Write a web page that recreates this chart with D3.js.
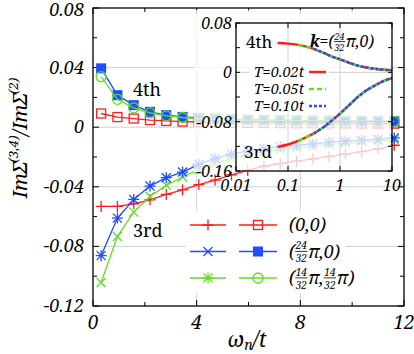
<!DOCTYPE html>
<html>
<head>
<meta charset="utf-8">
<script src="https://cdn.jsdelivr.net/npm/d3@7"></script>
<style>
  body { margin: 0; background: #fff; }
</style>
</head>
<body>
<script>
// main panel: Matsubara frequencies and ratios for three k points
var omega = [0.314, 0.942, 1.571, 2.199, 2.827, 3.456, 4.084, 4.712, 5.341, 5.969,
             6.597, 7.226, 7.854, 8.482, 9.111, 9.739, 10.367, 10.996, 11.624]

var third_00 = [-0.0532, -0.0532, -0.0514, -0.0487, -0.0451, -0.0420, -0.0385, -0.0355, -0.0320, -0.0290,
                -0.0262, -0.0245, -0.0228, -0.0212, -0.0196, -0.0180, -0.0164, -0.0145, -0.0121]
var third_24 = [-0.0862, -0.0610, -0.0485, -0.0395, -0.0339, -0.0301, -0.0250, -0.0210, -0.0180, -0.0160,
                -0.0145, -0.0132, -0.0122, -0.0112, -0.0102, -0.0094, -0.0088, -0.0082, -0.0072]
var third_14 = [-0.1042, -0.0734, -0.0570, -0.0465, -0.0390, -0.0334, -0.0285, -0.0245, -0.0210, -0.0185,
                -0.0165, -0.0150, -0.0138, -0.0127, -0.0117, -0.0108, -0.0100, -0.0093, -0.0085]
var fourth_00 = [0.0092, 0.0068, 0.0058, 0.0048, 0.0042, 0.0038, 0.0035, 0.0032, 0.0030, 0.0029,
                 0.0028, 0.0027, 0.0026, 0.0026, 0.0025, 0.0025, 0.0024, 0.0024, 0.0024]
var fourth_24 = [0.0395, 0.0215, 0.0148, 0.0103, 0.0081, 0.0069, 0.0062, 0.0057, 0.0053, 0.0050,
                 0.0048, 0.0046, 0.0045, 0.0044, 0.0043, 0.0042, 0.0041, 0.0040, 0.0040]
var fourth_14 = [0.0339, 0.0187, 0.0130, 0.0096, 0.0076, 0.0065, 0.0058, 0.0053, 0.0050, 0.0048,
                 0.0046, 0.0045, 0.0044, 0.0043, 0.0042, 0.0041, 0.0040, 0.0039, 0.0039]

// inset: k=(24/32 pi, 0), curves vs log omega for three temperatures
var inset_w = [0.063, 0.1, 0.157, 0.314, 0.5, 0.7, 1.0, 1.5, 2.2, 3.0, 5.0, 7.0, 10.0]
var inset_4th = [0.0475, 0.0466, 0.0445, 0.0380, 0.0310, 0.0255, 0.0212, 0.0155, 0.0108, 0.0082, 0.0055, 0.0042, 0.0033]
var inset_3rd = [-0.121, -0.117, -0.111, -0.099, -0.088, -0.078, -0.067, -0.053, -0.040, -0.031, -0.020, -0.014, -0.0095]
var temps = ["0.02", "0.05", "0.10"]
var t_start = [0.063, 0.157, 0.314]

var x_ticks = [0, 4, 8, 12]
var y_ticks = [0.08, 0.04, 0, -0.04, -0.08, -0.12]
var inset_x_ticks = [0.01, 0.1, 1, 10]
var inset_y_ticks = [0.08, 0, -0.08, -0.16]

var red = "#ff1c1c", blue = "#1f4dff", green = "#5ee01e", grid = "#cfcfcf"
var SERIF = "'Noto Serif', 'DejaVu Serif', serif"

var W = 414, H = 354
var svg = d3.select("body").append("svg").attr("width", W).attr("height", H)
    .attr("font-family", SERIF)

var x = d3.scaleLinear().domain([0, 12]).range([93, 404])
var y = d3.scaleLinear().domain([-0.12, 0.08]).range([306, 8])

// grid
svg.append("g").selectAll("line").data([4, 8]).enter().append("line")
    .attr("x1", d => x(d)).attr("x2", d => x(d)).attr("y1", y(0.08)).attr("y2", y(-0.12))
    .attr("stroke", grid).attr("stroke-width", 1)
svg.append("g").selectAll("line").data([0.04, 0, -0.04, -0.08]).enter().append("line")
    .attr("x1", x(0)).attr("x2", x(12)).attr("y1", d => y(d)).attr("y2", d => y(d))
    .attr("stroke", grid).attr("stroke-width", 1)

// frame + inner ticks
function frame(g, x0, x1, y0, y1) {
    g.append("rect").attr("x", x0).attr("y", y0).attr("width", x1 - x0).attr("height", y1 - y0)
        .attr("fill", "none").attr("stroke", "#000").attr("stroke-width", 1.3)
}
var axes = svg.append("g")
d3.range(0, 12.01, 2).forEach(v => {
    var len = v % 4 === 0 ? 6 : 4
    axes.append("line").attr("x1", x(v)).attr("x2", x(v)).attr("y1", y(-0.12)).attr("y2", y(-0.12) - len).attr("stroke", "#000")
    axes.append("line").attr("x1", x(v)).attr("x2", x(v)).attr("y1", y(0.08)).attr("y2", y(0.08) + len).attr("stroke", "#000")
})
d3.range(-0.12, 0.0801, 0.02).forEach(v => {
    var len = Math.abs(Math.round(v * 100)) % 4 === 0 ? 6 : 4
    axes.append("line").attr("x1", x(0)).attr("x2", x(0) + len).attr("y1", y(v)).attr("y2", y(v)).attr("stroke", "#000")
    axes.append("line").attr("x1", x(12)).attr("x2", x(12) - len).attr("y1", y(v)).attr("y2", y(v)).attr("stroke", "#000")
})

// marker shapes
function marker(g, kind, color, cx, cy) {
    var s = 4.5
    if (kind === "plus") {
        g.append("path").attr("d", `M${cx - s - 1},${cy}H${cx + s + 1}M${cx},${cy - s - 1}V${cy + s + 1}`).attr("stroke", color).attr("stroke-width", 1.3)
    } else if (kind === "cross") {
        g.append("path").attr("d", `M${cx - s},${cy - s}L${cx + s},${cy + s}M${cx - s},${cy + s}L${cx + s},${cy - s}`).attr("stroke", color).attr("stroke-width", 1.3)
    } else if (kind === "star") {
        g.append("path").attr("d", `M${cx - s},${cy - s}L${cx + s},${cy + s}M${cx - s},${cy + s}L${cx + s},${cy - s}` +
            `M${cx - s - 1},${cy}H${cx + s + 1}M${cx},${cy - s - 1}V${cy + s + 1}`).attr("stroke", color).attr("stroke-width", 1.3)
    } else if (kind === "square") {
        g.append("rect").attr("x", cx - 4.5).attr("y", cy - 4.5).attr("width", 9).attr("height", 9)
            .attr("fill", "none").attr("stroke", color).attr("stroke-width", 1.3)
    } else if (kind === "fsquare") {
        g.append("rect").attr("x", cx - 5).attr("y", cy - 5).attr("width", 10).attr("height", 10).attr("fill", color)
    } else if (kind === "circle") {
        g.append("circle").attr("cx", cx).attr("cy", cy).attr("r", 5)
            .attr("fill", "none").attr("stroke", color).attr("stroke-width", 1.3)
    }
}

var main_series = [
    {vals: third_00, color: red, mk: "plus"},
    {vals: third_14, color: green, mk: "cross"},
    {vals: third_24, color: blue, mk: "star"},
    {vals: fourth_00, color: red, mk: "square"},
    {vals: fourth_24, color: blue, mk: "fsquare"},
    {vals: fourth_14, color: green, mk: "circle"},
]
var line = d3.line().x(d => x(d[0])).y(d => y(d[1]))
var data_g = svg.append("g")
main_series.forEach(s => {
    var pts = omega.map((w, i) => [w, s.vals[i]])
    data_g.append("path").attr("d", line(pts)).attr("fill", "none").attr("stroke", s.color).attr("stroke-width", 1.3)
    pts.forEach(p => marker(data_g, s.mk, s.color, x(p[0]), y(p[1])))
})
frame(svg, 93, 404, 8, 306)

// ---- inset ----
var ix = d3.scaleLog().domain([0.01, 10]).range([236, 392])
var iy = d3.scaleLinear().domain([-0.16, 0.08]).range([171, 23])

// translucent veil over the main data
svg.append("rect").attr("x", 194).attr("y", 10).attr("width", 197).attr("height", 162)
    .attr("fill", "#fff").attr("fill-opacity", 0.76)

var inset = svg.append("g")
inset.selectAll(".vg").data([0.1, 1]).enter().append("line")
    .attr("x1", d => ix(d)).attr("x2", d => ix(d)).attr("y1", 23).attr("y2", 171)
    .attr("stroke", grid)
inset.selectAll(".hg").data([0, -0.08]).enter().append("line")
    .attr("x1", 236).attr("x2", 392).attr("y1", d => iy(d)).attr("y2", d => iy(d))
    .attr("stroke", grid)
inset_x_ticks.forEach(v => {
    inset.append("line").attr("x1", ix(v)).attr("x2", ix(v)).attr("y1", 171).attr("y2", 166).attr("stroke", "#000")
    inset.append("line").attr("x1", ix(v)).attr("x2", ix(v)).attr("y1", 23).attr("y2", 28).attr("stroke", "#000")
})
d3.range(-0.16, 0.0801, 0.04).forEach(v => {
    inset.append("line").attr("x1", 236).attr("x2", 240).attr("y1", iy(v)).attr("y2", iy(v)).attr("stroke", "#000")
    inset.append("line").attr("x1", 392).attr("x2", 388).attr("y1", iy(v)).attr("y2", iy(v)).attr("stroke", "#000")
})

// inset legend background
inset.append("rect").attr("x", 249).attr("y", 63).attr("width", 80).attr("height", 50).attr("fill", "#fff")

var iline = d3.line().x(d => ix(d[0])).y(d => iy(d[1])).curve(d3.curveMonotoneX)
var t_styles = [
    {color: red, dash: null},
    {color: green, dash: "5,3"},
    {color: blue, dash: "3,2"},
]
t_styles.forEach((st, k) => {
    [inset_4th, inset_3rd].forEach(vals => {
        var pts = inset_w.map((w, i) => [w, vals[i]]).filter(p => p[0] >= t_start[k] - 1e-9)
        inset.append("path").attr("d", iline(pts)).attr("fill", "none")
            .attr("stroke", st.color).attr("stroke-width", 2.4)
            .attr("stroke-dasharray", st.dash)
    })
})
frame(inset, 236, 392, 23, 171)

// inset legend
temps.forEach((t, k) => {
    var yy = 72 + k * 17
    inset.append("text").attr("x", 304).attr("y", yy + 5).attr("text-anchor", "end")
        .attr("font-size", 14.5).attr("font-style", "italic").text("T=" + t + "t")
    inset.append("line").attr("x1", 309).attr("x2", 326).attr("y1", yy).attr("y2", yy)
        .attr("stroke", t_styles[k].color).attr("stroke-width", 2.4).attr("stroke-dasharray", t_styles[k].dash)
})

// inset tick labels
inset_x_ticks.forEach(v => {
    svg.append("text").attr("x", ix(v)).attr("y", 191).attr("text-anchor", "middle")
        .attr("font-size", 16).attr("font-style", "italic").text(v)
})
inset_y_ticks.forEach(v => {
    svg.append("text").attr("x", 232).attr("y", iy(v) + 6).attr("text-anchor", "end")
        .attr("font-size", 16).attr("font-style", "italic").text(v === 0 ? "0" : v.toFixed(2))
})

// texts with stacked fractions
function richText(g, x0, ybase, pieces, size) {
    var cx = x0
    pieces.forEach(p => {
        if (p.frac) {
            var fs = size * 0.56
            var n = g.append("text").attr("font-size", fs).attr("font-style", "italic").attr("text-anchor", "middle").text(p.frac[0])
            var d = g.append("text").attr("font-size", fs).attr("font-style", "italic").attr("text-anchor", "middle").text(p.frac[1])
            var w = Math.max(n.node().getComputedTextLength(), d.node().getComputedTextLength()) + 1
            n.attr("x", cx + w / 2).attr("y", ybase - size * 0.45)
            d.attr("x", cx + w / 2).attr("y", ybase + size * 0.26)
            g.append("line").attr("x1", cx).attr("x2", cx + w).attr("y1", ybase - size * 0.34).attr("y2", ybase - size * 0.34)
                .attr("stroke", "#000").attr("stroke-width", 0.8)
            cx += w + 0.5
        } else {
            var t = g.append("text").attr("x", cx).attr("y", ybase).attr("font-size", size)
                .attr("font-style", "italic").attr("font-weight", p.bold ? "bold" : null).text(p.t)
            cx += t.node().getComputedTextLength()
        }
    })
    return cx
}

svg.append("text").attr("x", 246).attr("y", 48).attr("font-size", 17).text("4th")
svg.append("text").attr("x", 244).attr("y", 158).attr("font-size", 17).text("3rd")
richText(svg, 310, 47, [{t: "k", bold: true}, {t: "=("}, {frac: ["24", "32"]}, {t: "π,0)"}], 16)

// ---- main legend ----
var leg = svg.append("g")
leg.append("rect").attr("x", 186).attr("y", 211).attr("width", 160).attr("height", 82).attr("fill", "#fff")
var leg_rows = [
    {color: red, m1: "plus", m2: "square", label: [{t: "(0,0)"}]},
    {color: blue, m1: "cross", m2: "fsquare", label: [{t: "("}, {frac: ["24", "32"]}, {t: "π,0)"}]},
    {color: green, m1: "star", m2: "circle", label: [{t: "("}, {frac: ["14", "32"]}, {t: "π,"}, {frac: ["14", "32"]}, {t: "π)"}]},
]
leg_rows.forEach((r, k) => {
    var yy = 225 + k * 26.5
    leg.append("line").attr("x1", 190).attr("x2", 226).attr("y1", yy).attr("y2", yy).attr("stroke", r.color).attr("stroke-width", 1.3)
    marker(leg, r.m1, r.color, 208, yy)
    leg.append("line").attr("x1", 239).attr("x2", 277).attr("y1", yy).attr("y2", yy).attr("stroke", r.color).attr("stroke-width", 1.3)
    marker(leg, r.m2, r.color, 258, yy)
    richText(leg, 289, yy + 6, r.label, 18)
})

// main labels
svg.append("text").attr("x", 133).attr("y", 96).attr("font-size", 18).text("4th")
svg.append("text").attr("x", 133).attr("y", 237).attr("font-size", 18).text("3rd")

x_ticks.forEach(v => {
    svg.append("text").attr("x", x(v)).attr("y", 329).attr("text-anchor", "middle")
        .attr("font-size", 19).attr("font-style", "italic").text(v)
})
y_ticks.forEach(v => {
    svg.append("text").attr("x", 84).attr("y", Math.max(y(v) + 6, 16)).attr("text-anchor", "end")
        .attr("font-size", 18).attr("font-style", "italic").text(v === 0 ? "0" : v.toFixed(2))
})

var xl = svg.append("text").attr("x", 247).attr("y", 347).attr("text-anchor", "middle")
    .attr("font-size", 21).attr("font-style", "italic")
xl.append("tspan").text("ω")
xl.append("tspan").attr("font-size", 14).attr("dy", 3).text("n")
xl.append("tspan").attr("dy", -3).text("/t")

var yl = svg.append("text").attr("transform", "translate(27,138) rotate(-90)").attr("text-anchor", "middle")
    .attr("font-size", 20).attr("font-style", "italic")
yl.append("tspan").text("ImΣ")
yl.append("tspan").attr("font-size", 13).attr("dy", -9).text("(3,4)")
yl.append("tspan").attr("dy", 9).text("/ImΣ")
yl.append("tspan").attr("font-size", 13).attr("dy", -9).text("(2)")
</script>
</body>
</html>
